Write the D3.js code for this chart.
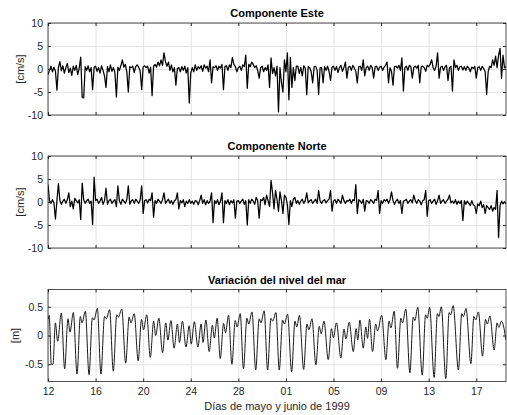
<!DOCTYPE html>
<html>
<head>
<meta charset="utf-8">
<script src="https://cdn.jsdelivr.net/npm/d3@7"></script>
<style>
  body { margin: 0; background: #fff; }
  text { font-family: "Liberation Sans", Arial, sans-serif; }
  .tick text { fill: #262626; font-size: 10.5px; }
  .domain { display: none; }
</style>
</head>
<body>
<div id="chart"></div>
<script>
// Componente Este [cm/s], one value every 3 h starting 12 May 1999 00:00 (one row per day)
const este = [
  -1.2, -0.3, 0.6, -0.6, 0.4, -0.5, -4.6, 0.3,
  1.6, -0.4, 0.7, -0.9, 0.3, 1.2, -0.8, 0.2,
  -1.4, 0.6, -0.3, 0.8, -1.2, 0.2, 2.6, -6.2,
  -6.3, 0.5, -0.3, 0.7, -0.6, 0.3, -4.5, 0.4,
  0.6, -0.5, 0.3, -0.9, 0.7, -0.3, -1.5, -4.0,
  0.5, -0.6, 0.9, -0.5, 0.3, -0.8, -6.1, 0.4,
  -0.3, 0.7, 2.0, 0.4, 1.0, -0.6, -5.0, 0.5,
  0.3, 0.6, -0.8, 0.5, 0.9, 0.4, -0.5, -4.5,
  0.5, 0.7, 0.3, 0.6, -0.9, 0.4, -5.8, 0.6,
  1.0, 0.4, 1.5, 0.7, 2.0, 0.8, 3.5, 1.6,
  0.6, 1.5, -0.3, 0.9, -0.6, 0.3, -3.5, 0.1,
  0.3, -0.6, 0.5, -0.3, 0.6, -0.9, 0.3, -7.4,
  -0.9, 0.3, -0.6, 0.9, -0.3, 0.5, 0.1, 0.7,
  -0.5, 0.9, 0.2, 0.6, -0.6, 2.0, -3.0, 0.5,
  0.3, 0.7, -0.3, 0.6, 0.2, 1.0, -4.5, 0.6,
  0.7, -0.3, 0.9, 0.3, 2.5, 1.0, 0.5, -0.6,
  0.3, 0.6, -0.3, 0.9, 0.5, 3.0, -4.2, 1.0,
  0.5, 1.5, 1.0, 0.3, 0.7, -0.3, -2.0, 0.3,
  0.6, -0.6, 0.3, -0.3, 0.9, -4.0, 2.4, -1.0,
  0.3, -1.5, 0.6, -9.3, 0.3, -3.0, -5.0, 2.0,
  -0.6, 3.5, -6.7, 2.5, -4.0, 0.3, -2.5, 0.6,
  0.6, -1.0, 0.3, -1.5, 0.7, 0.2, -5.6, 0.5,
  0.3, -0.6, -3.0, 0.5, 0.6, -0.3, -5.5, 0.3,
  0.3, -3.0, 0.5, -0.3, 0.6, -0.5, -2.5, 0.4,
  0.6, -0.3, 0.5, -0.8, 0.3, 0.8, -0.5, 0.3,
  1.5, -2.0, 0.4, 0.6, -0.3, 0.8, 0.2, -0.5,
  -3.0, 0.5, 0.6, -0.3, 2.0, -1.5, 0.3, 0.6,
  -0.3, 0.8, 0.3, -2.0, 0.5, 0.6, -0.3, 0.4,
  0.6, -0.3, 0.4, 0.8, 1.5, -3.0, 0.3, -0.5,
  -3.5, 0.5, 0.6, 0.2, 0.8, -0.3, 2.4, -4.8,
  0.3, 0.6, -0.3, 0.8, 0.5, -2.0, 0.4, 0.6,
  0.2, 0.8, -3.0, 0.5, 0.6, 0.3, -0.5, 0.8,
  0.5, 1.0, 2.0, 0.3, -0.3, 0.6, 3.5, -2.0,
  0.4, 0.6, -0.3, 0.5, 0.8, -2.5, 0.3, 0.6,
  -4.8, 2.0, 0.3, 0.8, -0.3, 0.5, 0.6, -0.2,
  0.5, -0.3, 0.6, 0.2, -0.6, 0.4, 0.1, 0.6,
  -2.0, 0.3, 0.5, -0.3, 0.6, 0.1, -0.6, -5.5,
  -0.6, 0.6, 0.3, 2.0, 0.8, 2.8, 0.3, 3.0,
  4.5, -2.0, 3.0, 0.3, 0.5
];

// Componente Norte [cm/s], same sampling
const norte = [
  3.8, 0.3, -0.3, 0.5, -0.2, -3.7, 0.3, 4.0,
  0.3, -0.5, 0.2, 0.6, -0.3, 0.5, 2.0, -1.0,
  0.2, -1.5, 0.8, 0.3, -0.2, 0.5, -3.8, 4.1,
  0.5, -0.3, 0.3, 0.6, -0.3, 0.2, -4.9, 5.4,
  0.3, 0.6, -0.3, 0.2, 1.0, -0.5, 0.3, 3.0,
  -0.5, 0.3, 0.6, -0.3, 0.2, 0.5, -1.0, 3.5,
  0.3, -0.5, 0.6, 0.2, -0.3, 0.5, 3.5, -0.5,
  0.2, 0.5, -0.3, 0.6, 0.2, -0.3, 0.5, 3.5,
  -2.5, 0.3, 0.5, -0.2, 0.6, 0.3, 2.0, -3.3,
  0.3, -0.3, 0.6, 0.2, -0.3, 0.5, 2.0, -0.3,
  0.2, 0.6, -0.3, 0.3, -0.5, 0.3, 0.5, 2.0,
  -1.5, 0.3, -0.2, 0.5, -1.0, 0.2, -0.3, 0.5,
  -0.3, 0.2, -0.5, 0.3, 0.2, -0.6, 0.3, 1.5,
  -0.3, 0.5, -0.6, 0.3, -0.3, 0.2, 2.0, -4.5,
  0.3, -0.3, 0.5, -0.6, 0.2, 2.0, -4.5, 0.3,
  -0.3, 0.5, -0.6, 0.3, -0.2, 0.5, -3.5, 0.2,
  0.3, -0.3, 0.2, 0.6, -0.5, 0.3, -5.0, 0.5,
  -0.3, 0.6, 0.2, -0.5, 1.0, 0.3, -3.5, 0.5,
  0.3, 1.0, -0.6, 1.5, 0.3, -1.0, 4.7, 2.0,
  -1.5, 2.5, 0.6, -2.0, 2.2, 0.3, -2.5, 1.5,
  1.0, -0.6, -4.9, 0.3, -1.0, 0.6, 1.0, -0.3,
  0.3, -0.5, 0.2, 0.6, -0.3, 0.3, 2.0, -0.2,
  0.3, 0.5, -0.3, 0.2, 0.6, -0.3, 2.5, 0.2,
  -0.3, 0.3, 0.5, -0.2, 0.3, 0.6, 2.5, -2.0,
  0.2, 0.5, -0.3, 0.6, 0.2, -0.3, 1.5, 0.3,
  -0.3, 0.3, 0.2, 0.6, -0.3, 0.5, 0.3, 3.8,
  -2.5, 0.5, 0.2, -0.3, 0.6, -2.0, 0.3, 0.2,
  -0.3, 0.5, 0.2, -0.3, 0.6, 0.3, 2.5, -2.5,
  0.3, -0.3, 0.5, 0.2, 0.6, -0.3, 0.5, 2.2,
  0.3, -0.5, 0.2, 0.6, -0.3, 0.3, -2.5, 0.2,
  0.3, 0.6, -0.3, 0.2, 0.5, -0.2, 1.5, 0.3,
  -0.3, 0.5, 0.2, -0.6, 0.3, 0.5, 2.5, -3.1,
  0.3, 0.5, -0.3, 0.2, 0.6, -0.5, 0.3, 1.5,
  -0.3, 0.2, 0.5, -0.3, 0.2, 0.6, 1.5, -0.2,
  0.2, -0.3, 0.5, -0.5, 0.2, -0.3, 0.3, -4.0,
  0.3, -0.5, 0.2, -0.3, -0.8, 0.3, -0.6, -0.8,
  -2.5, -0.4, -0.8, 0.2, -1.2, -0.6, -2.5, -0.8,
  -1.2, -1.6, -0.8, -2.0, -1.2, -1.6, 2.5, -7.7,
  -0.8, 0.2, -0.4, 0.1, -0.4
];

// Variación del nivel del mar [m]: turning points (days since 12 May) and values
const nivelDia = [
  0, 0.1, 0.28, 0.42, 0.62, 0.81, 1.12,
  1.40, 1.68, 1.85, 2.13, 2.44, 2.72, 2.86, 3.14,
  3.45, 3.73, 3.87, 4.15, 4.45, 4.75, 4.9, 5.18,
  5.49, 5.78, 5.92, 6.2, 6.53, 6.82, 6.97, 7.25,
  7.58, 7.86, 8.03, 8.3, 8.6, 8.88, 9.05, 9.32,
  9.63, 9.9, 10.08, 10.33, 10.6, 10.88, 11.05, 11.3,
  11.6, 11.87, 12.04, 12.3, 12.6, 12.87, 13.03, 13.27,
  13.55, 13.82, 13.98, 14.22, 14.48, 14.76, 14.92, 15.18,
  15.46, 15.74, 15.9, 16.16, 16.43, 16.72, 16.87, 17.15,
  17.46, 17.75, 17.9, 18.17, 18.46, 18.74, 18.89, 19.16,
  19.44, 19.72, 19.87, 20.14, 20.48, 20.76, 20.91, 21.14,
  21.49, 21.77, 21.93, 22.19, 22.52, 22.8, 22.96, 23.2,
  23.56, 23.83, 23.99, 24.25, 24.62, 24.88, 25.04, 25.32,
  25.66, 25.9, 26.04, 26.22, 26.5, 26.72, 26.86, 27.03,
  27.28, 27.55, 27.7, 28.05, 28.4, 28.67, 28.82, 29.1,
  29.38, 29.66, 29.8, 30.08, 30.42, 30.7, 30.84, 31.08,
  31.46, 31.74, 31.88, 32.08, 32.46, 32.73, 32.86, 33.06,
  33.44, 33.72, 33.85, 34.06, 34.5, 34.78, 34.92, 35.14,
  35.55, 35.8, 35.95, 36.18, 36.53, 36.78, 36.93, 37.15,
  37.5, 37.75, 37.9, 38.12, 38.5
];
const nivelValor = [
  0.28, 0.35, -0.5, -0.5, 0.22, -0.1, 0.39,
  -0.58, 0.29, 0.06, 0.40, -0.67, 0.33, 0.22, 0.42,
  -0.68, 0.31, 0.27, 0.47, -0.67, 0.33, 0.29, 0.45,
  -0.62, 0.36, 0.32, 0.46, -0.48, 0.32, 0.22, 0.38,
  -0.44, 0.28, 0.10, 0.36, -0.38, 0.25, 0.0, 0.30,
  -0.30, 0.22, -0.08, 0.26, -0.22, 0.20, -0.12, 0.25,
  -0.20, 0.17, -0.15, 0.24, -0.20, 0.20, -0.12, 0.27,
  -0.28, 0.18, -0.04, 0.30, -0.40, 0.21, 0.05, 0.35,
  -0.50, 0.26, 0.15, 0.38, -0.58, 0.30, 0.20, 0.41,
  -0.60, 0.29, 0.22, 0.43, -0.60, 0.30, 0.25, 0.40,
  -0.60, 0.27, 0.20, 0.37, -0.63, 0.25, 0.15, 0.35,
  -0.59, 0.20, 0.10, 0.29, -0.51, 0.16, 0.03, 0.25,
  -0.42, 0.12, -0.04, 0.22, -0.39, 0.11, -0.06, 0.23,
  -0.28, 0.12, -0.08, 0.27, -0.22, 0.15, -0.05, 0.28,
  -0.28, 0.20, 0.08, 0.35, -0.42, 0.25, 0.13, 0.42,
  -0.57, 0.30, 0.22, 0.46, -0.65, 0.32, 0.26, 0.49,
  -0.69, 0.36, 0.30, 0.49, -0.73, 0.38, 0.33, 0.50,
  -0.75, 0.40, 0.36, 0.52, -0.60, 0.38, 0.33, 0.47,
  -0.49, 0.33, 0.27, 0.41, -0.36, 0.28, 0.20, 0.34,
  -0.25, 0.22, 0.14, 0.25, -0.08
];

const xTicks = ["1999-05-12", "1999-05-16", "1999-05-20", "1999-05-24", "1999-05-28",
                "1999-06-01", "1999-06-05", "1999-06-09", "1999-06-13", "1999-06-17"];
const titulos = ["Componente Este", "Componente Norte", "Variación del nivel del mar"];
const unidades = ["[cm/s]", "[cm/s]", "[m]"];
const yTicksCorriente = [-10, -5, 0, 5, 10];
const yTicksNivel = [-0.5, 0, 0.5];

const W = 507, H = 415;
const left = 48, right = 506;
const panels = [
  { top: 23, bottom: 115, domain: [-10, 10], ticks: yTicksCorriente },
  { top: 156, bottom: 248, domain: [-10, 10], ticks: yTicksCorriente },
  { top: 289.5, bottom: 381.5, domain: [-0.8, 0.8], ticks: yTicksNivel }
];

const parse = d3.timeParse("%Y-%m-%d");
const t0 = new Date(1999, 4, 12);
const t1 = new Date(1999, 5, 19, 12);
const x = d3.scaleTime().domain([t0, t1]).range([left, right]);

const svg = d3.select("#chart").append("svg")
    .attr("width", W).attr("height", H);

const series = [
  este.map((v, i) => ({ t: d3.timeHour.offset(t0, 3 * i), v })),
  norte.map((v, i) => ({ t: d3.timeHour.offset(t0, 3 * i), v })),
  nivelDia.map((d, i) => ({ t: new Date(t0.getTime() + d * 864e5), v: nivelValor[i] }))
];

panels.forEach((p, i) => {
  const y = d3.scaleLinear().domain(p.domain).range([p.bottom, p.top]);
  const h = p.bottom - p.top;
  const g = svg.append("g");

  // grid
  g.append("g")
      .attr("transform", `translate(0,${p.bottom})`)
      .call(d3.axisBottom(x).tickValues(xTicks.map(parse)).tickSize(-h).tickFormat(""))
      .selectAll("line").attr("stroke", "#e3e3e3");
  g.append("g")
      .attr("transform", `translate(${left},0)`)
      .call(d3.axisLeft(y).tickValues(p.ticks).tickSize(-(right - left)).tickFormat(""))
      .selectAll("line").attr("stroke", "#e3e3e3");

  // data
  g.append("clipPath").attr("id", "clip" + i)
    .append("rect").attr("x", left).attr("y", p.top).attr("width", right - left).attr("height", h);
  const line = d3.line().x(d => x(d.t)).y(d => y(d.v));
  if (i === 2) line.curve(d3.curveMonotoneX);
  g.append("path")
      .datum(series[i])
      .attr("clip-path", `url(#clip${i})`)
      .attr("fill", "none")
      .attr("stroke", i === 2 ? "#1a1a1a" : "#000")
      .attr("stroke-width", i === 2 ? 1.0 : 1.25)
      .attr("stroke-linejoin", "round")
      .attr("d", line);

  // axes with inward ticks (box style)
  const axL = g.append("g").attr("transform", `translate(${left},0)`)
      .call(d3.axisLeft(y).tickValues(p.ticks).tickSizeInner(-3).tickSizeOuter(0).tickPadding(5)
        .tickFormat(d => d3.format("")(d).replace("−", "-")));
  axL.selectAll("line").attr("stroke", "#262626");
  g.append("g").attr("transform", `translate(${right},0)`)
      .call(d3.axisRight(y).tickValues(p.ticks).tickSizeInner(-3).tickSizeOuter(0).tickFormat(""))
      .selectAll("line").attr("stroke", "#262626");
  g.append("g").attr("transform", `translate(0,${p.top})`)
      .call(d3.axisTop(x).tickValues(xTicks.map(parse)).tickSizeInner(-3).tickSizeOuter(0).tickFormat(""))
      .selectAll("line").attr("stroke", "#262626");
  const axB = g.append("g").attr("transform", `translate(0,${p.bottom})`)
      .call(d3.axisBottom(x).tickValues(xTicks.map(parse)).tickSizeInner(-3).tickSizeOuter(0).tickPadding(6)
        .tickFormat(i === 2 ? d3.timeFormat("%d") : ""));
  axB.selectAll("line").attr("stroke", "#262626");

  g.append("rect")
      .attr("x", left).attr("y", p.top).attr("width", right - left).attr("height", h)
      .attr("fill", "none").attr("stroke", "#262626").attr("stroke-width", 0.8);

  // title
  svg.append("text")
      .attr("x", (left + right) / 2).attr("y", p.top - 6)
      .attr("text-anchor", "middle")
      .style("font-size", "11px").style("font-weight", "bold")
      .text(titulos[i]);

  // y label
  svg.append("text")
      .attr("transform", `translate(${i === 2 ? 19 : 24},${(p.top + p.bottom) / 2}) rotate(-90)`)
      .attr("text-anchor", "middle")
      .style("font-size", "11px").attr("fill", "#262626")
      .text(unidades[i]);
});

svg.append("text")
    .attr("x", (left + right) / 2).attr("y", 410)
    .attr("text-anchor", "middle")
    .style("font-size", "11px").attr("fill", "#262626")
    .text("Días de mayo y junio de 1999");
</script>
</body>
</html>
